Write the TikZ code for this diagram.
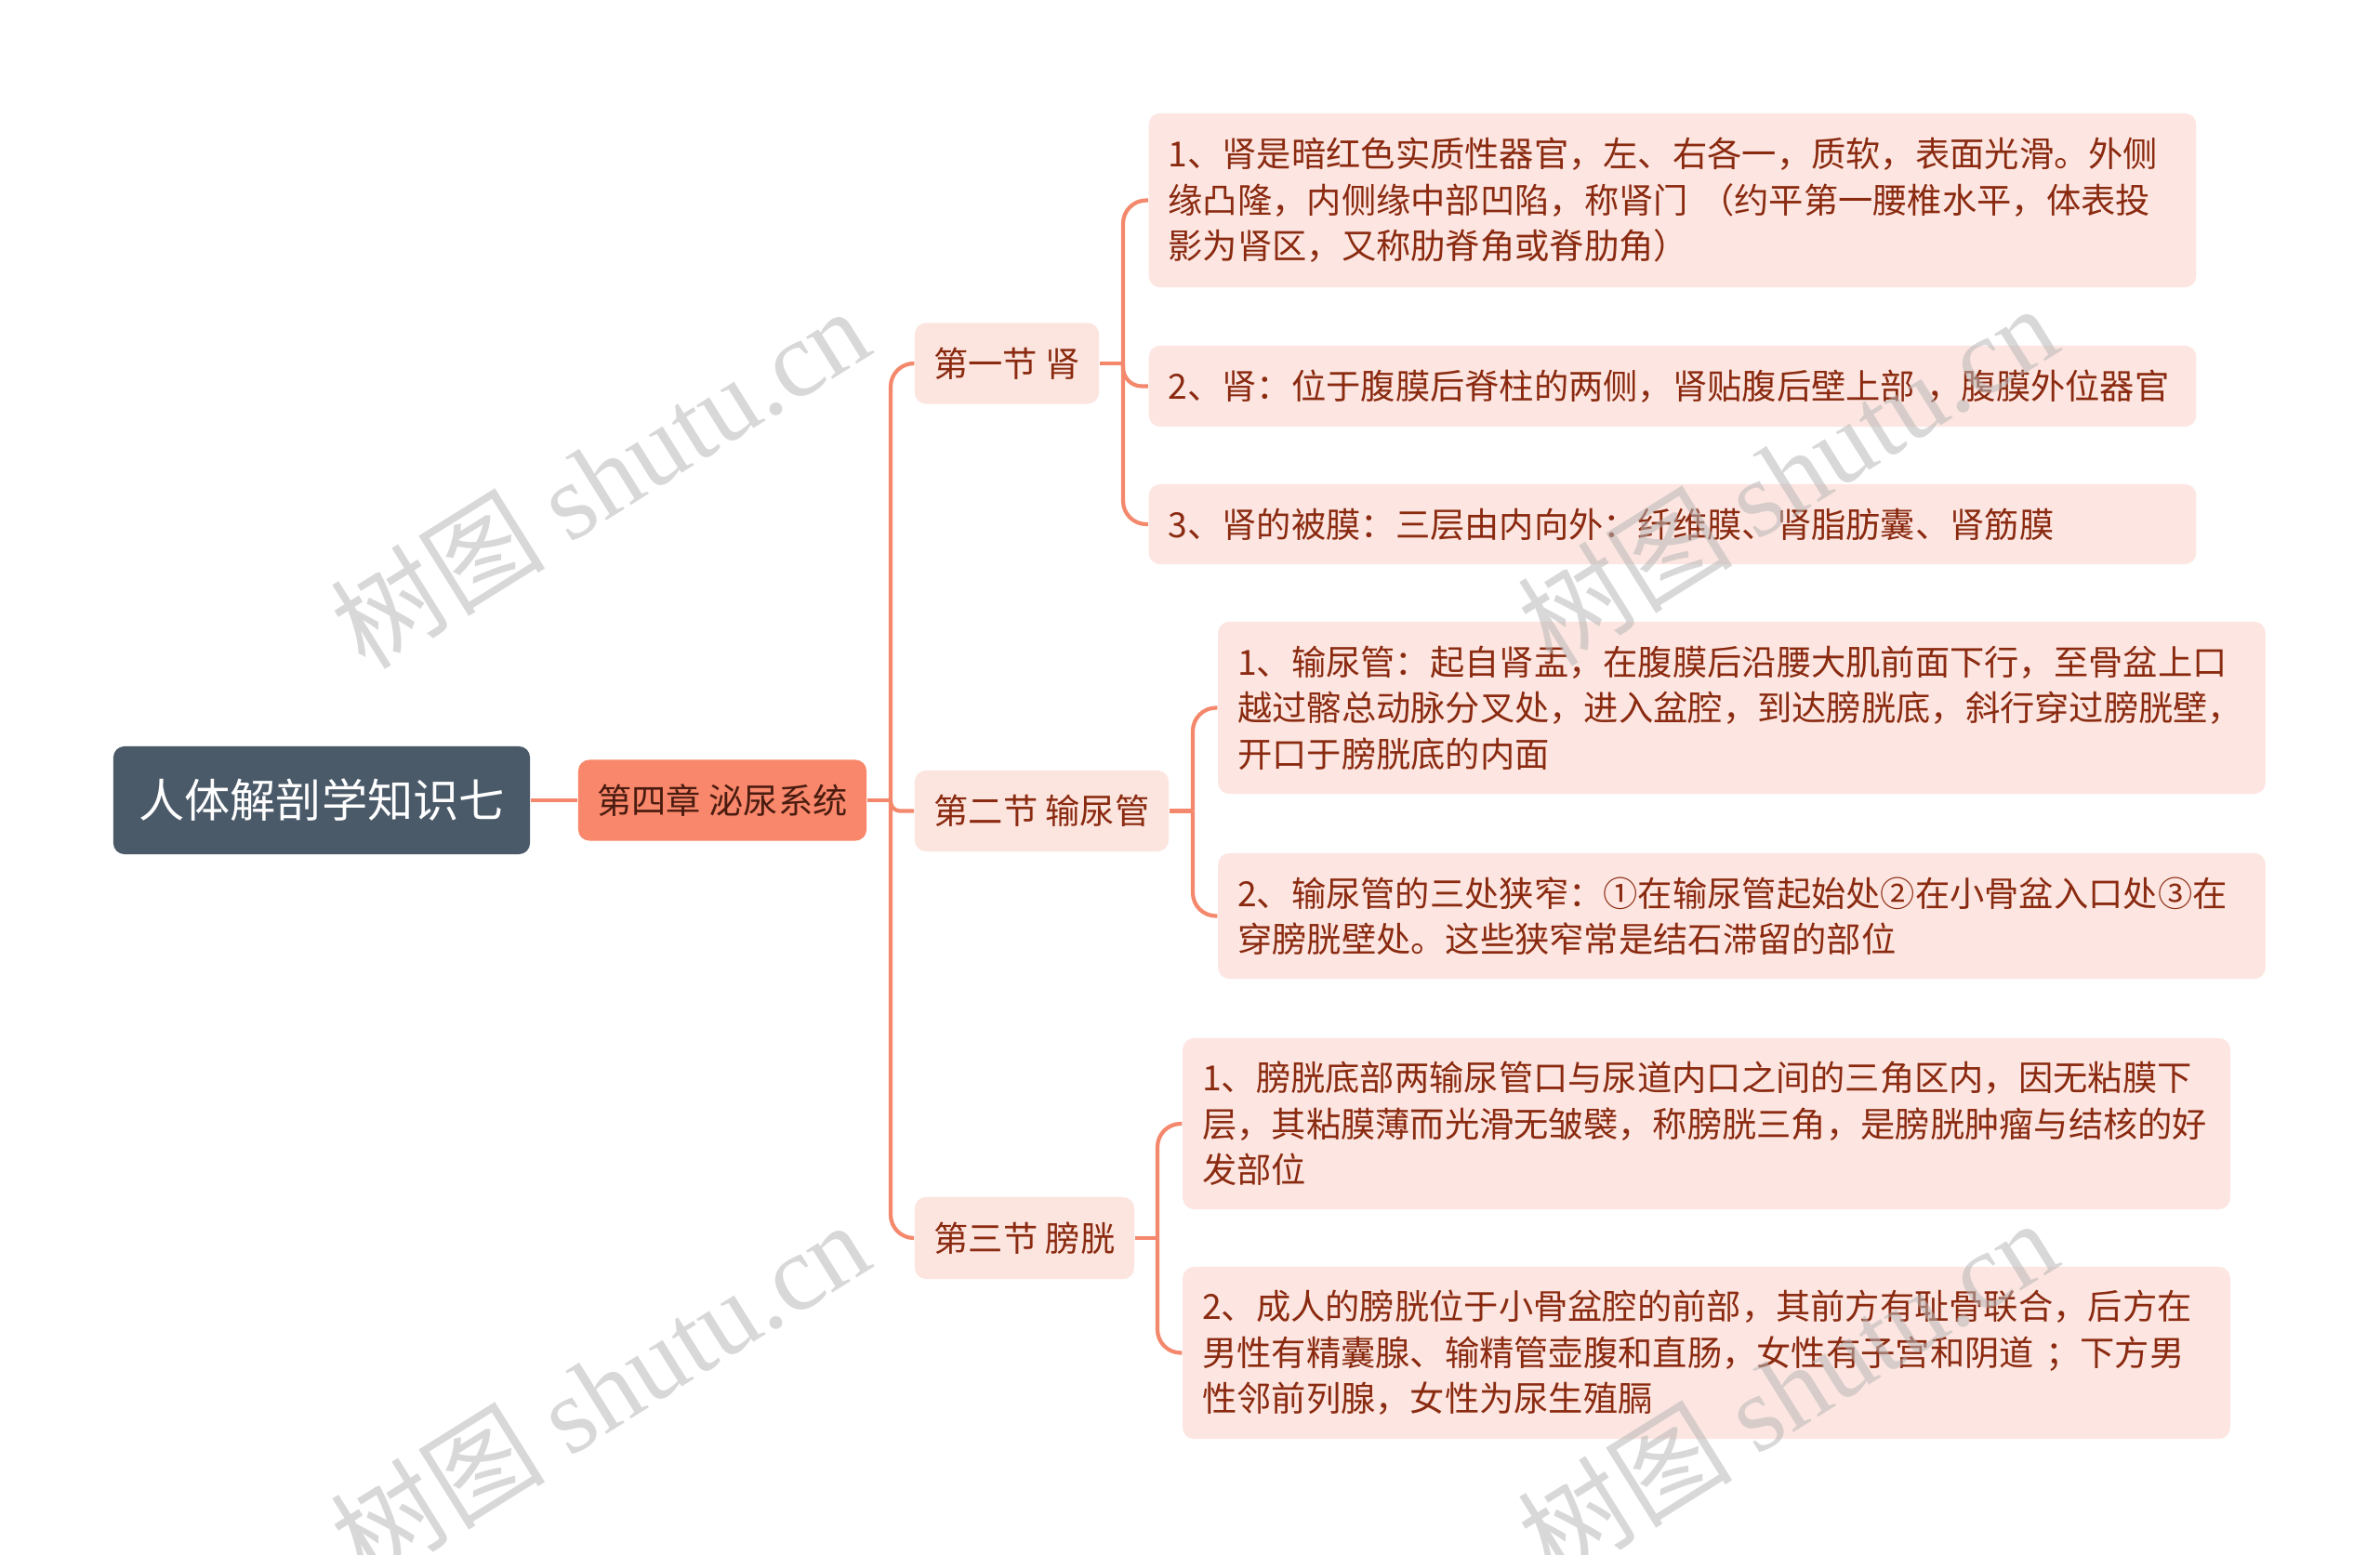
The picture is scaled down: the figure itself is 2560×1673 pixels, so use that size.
\documentclass[tikz,border=0pt]{standalone}
\usepackage{fontspec}
\setmainfont{Noto Sans CJK SC}
\newfontfamily\wmlatin{Liberation Serif}
\definecolor{rootfill}{HTML}{4B5A69}
\definecolor{chapfill}{HTML}{F9876B}
\definecolor{secfill}{HTML}{FCE5DF}
\definecolor{leaffill}{HTML}{FDE6E1}
\definecolor{txt}{HTML}{8A2A10}
\definecolor{chaptxt}{HTML}{4A1C10}
\definecolor{linec}{HTML}{F4886C}
\definecolor{wmc}{HTML}{B8B8B8}
\tikzset{
  rootbox/.style={fill=rootfill, rounded corners=0.12cm, text=white, font=\fontsize{14pt}{17pt}\selectfont, inner sep=0pt, minimum width=4.48cm, minimum height=1.16cm},
  chapbox/.style={fill=chapfill, rounded corners=0.12cm, text=chaptxt, font=\fontsize{10.6pt}{13pt}\selectfont, inner sep=0pt, minimum width=3.10cm, minimum height=0.87cm},
  secbox/.style={fill=secfill, rounded corners=0.12cm, text=txt, font=\fontsize{10.6pt}{13pt}\selectfont, inner sep=0pt, minimum height=0.87cm},
  leafbox/.style={fill=leaffill, rounded corners=0.12cm, text=txt, font=\fontsize{10.6pt}{14.1pt}\selectfont, inner xsep=0.21cm, inner ysep=0pt, text width=10.84cm, align=left},
  conn/.style={draw=linec, line width=1.2pt},
  wm/.style={text=wmc, opacity=0.55, rotate=32, font=\fontsize{33pt}{36pt}\selectfont}
}
\begin{document}
\begin{tikzpicture}[x=0.01cm, y=-0.01cm]
\useasboundingbox[fill=white] (0,0) rectangle (2560,1673);

\node[rootbox] (root) at (346,861) {人体解剖学知识七};
\node[chapbox] (ch) at (777,861) {第四章 泌尿系统};

\node[secbox, minimum width=1.98cm] (s1) at (1083,391) {第一节 肾};
\node[secbox, minimum width=2.73cm] (s2) at (1120.5,872.5) {第二节 输尿管};
\node[secbox, minimum width=2.36cm, minimum height=0.88cm] (s3) at (1102,1332) {第三节 膀胱};

\node[leafbox, minimum height=1.87cm] (l11) at (1799,215.5) {1、肾是暗红色实质性器官，左、右各一，质软，表面光滑。外侧\\缘凸隆，内侧缘中部凹陷，称肾门 （约平第一腰椎水平，体表投\\影为肾区，又称肋脊角或脊肋角）};
\node[leafbox, minimum height=0.87cm] (l12) at (1799,415.5) {2、肾：位于腹膜后脊柱的两侧，肾贴腹后壁上部 ，腹膜外位器官};
\node[leafbox, minimum height=0.86cm] (l13) at (1799,564) {3、肾的被膜：三层由内向外：纤维膜、肾脂肪囊、肾筋膜};

\node[leafbox, minimum height=1.85cm] (l21) at (1873.5,761.5) {1、输尿管：起自肾盂，在腹膜后沿腰大肌前面下行，至骨盆上口\\越过髂总动脉分叉处，进入盆腔，到达膀胱底，斜行穿过膀胱壁，\\开口于膀胱底的内面};
\node[leafbox, minimum height=1.35cm] (l22) at (1873.5,985.5) {2、输尿管的三处狭窄：①在输尿管起始处②在小骨盆入口处③在\\穿膀胱壁处。这些狭窄常是结石滞留的部位};

\node[leafbox, minimum height=1.84cm] (l31) at (1835.5,1209) {1、膀胱底部两输尿管口与尿道内口之间的三角区内，因无粘膜下\\层，其粘膜薄而光滑无皱襞，称膀胱三角，是膀胱肿瘤与结核的好\\发部位};
\node[leafbox, minimum height=1.85cm] (l32) at (1835.5,1455.5) {2、成人的膀胱位于小骨盆腔的前部，其前方有耻骨联合，后方在\\男性有精囊腺、输精管壶腹和直肠，女性有子宫和阴道 ；下方男\\性邻前列腺，女性为尿生殖膈};

% connectors
\coordinate (t) at (958,861);
\draw[conn] (root.east) -- (ch.west);
\draw[conn] (ch.east) -- (t);
\draw[conn, rounded corners=0.25cm] (t) |- (s1.west);
\draw[conn, rounded corners=0.1cm] (t) |- (s2.west);
\draw[conn, rounded corners=0.25cm] (t) |- (s3.west);

\coordinate (b1) at (1208,391);
\draw[conn] (s1.east) -- (b1);
\draw[conn, rounded corners=0.25cm] (b1) |- (l11.west);
\draw[conn, rounded corners=0.2cm] (b1) |- (l12.west);
\draw[conn, rounded corners=0.25cm] (b1) |- (l13.west);

\coordinate (b2) at (1283,872.5);
\draw[conn] (s2.east) -- (b2);
\draw[conn, rounded corners=0.25cm] (b2) |- (l21.west);
\draw[conn, rounded corners=0.25cm] (b2) |- (l22.west);

\coordinate (b3) at (1245,1332);
\draw[conn] (s3.east) -- (b3);
\draw[conn, rounded corners=0.25cm] (b3) |- (l31.west);
\draw[conn, rounded corners=0.25cm] (b3) |- (l32.west);

% watermarks
\node[wm] (w1) at (645,513) {树图 {\wmlatin shutu.cn}};
\node[wm] (w2) at (1922,510) {树图 {\wmlatin shutu.cn}};
\node[wm] (w3) at (645,1496) {树图 {\wmlatin shutu.cn}};
\node[wm] (w4) at (1922,1494) {树图 {\wmlatin shutu.cn}};
\end{tikzpicture}
\end{document}
